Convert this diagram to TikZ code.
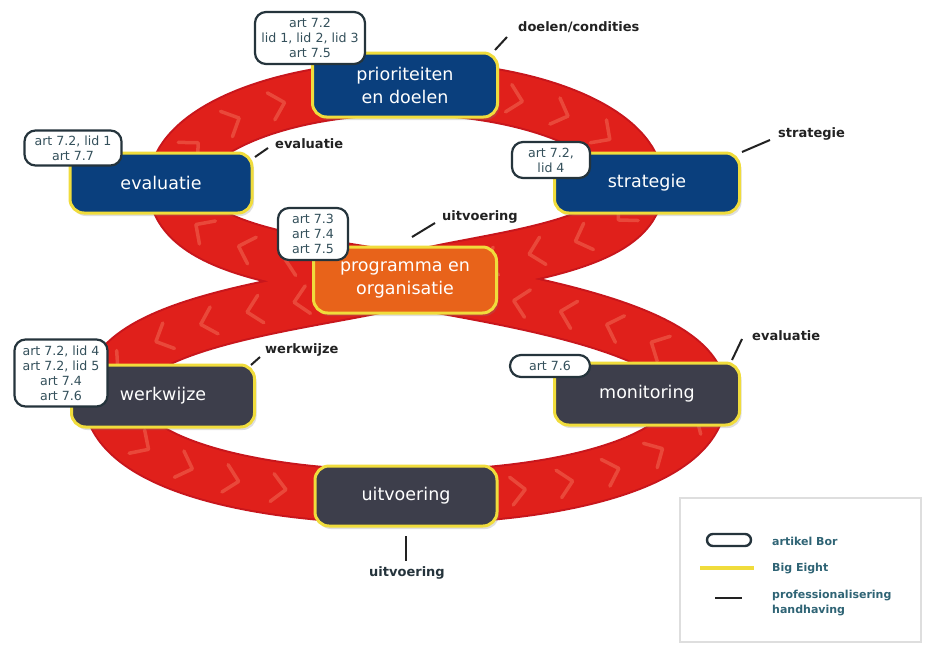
\documentclass[tikz,border=0pt]{standalone}
\usepackage{fontspec}
\setmainfont{DejaVu Sans}
\usetikzlibrary{decorations.markings,shadows}
\definecolor{bandred}{HTML}{E0201B}
\definecolor{banddark}{HTML}{C8161C}
\definecolor{chev}{HTML}{F47A60}
\definecolor{boxblue}{HTML}{0A3F7D}
\definecolor{boxorange}{HTML}{E8631A}
\definecolor{boxgray}{HTML}{3D3E4B}
\definecolor{rimyellow}{HTML}{F0DC3C}
\definecolor{artborder}{HTML}{25343C}
\definecolor{arttext}{HTML}{34505B}
\definecolor{legtext}{HTML}{2F6475}
\definecolor{anncol}{HTML}{222222}
\begin{document}
\begin{tikzpicture}[x=1pt,y=-1pt,
 mainbox/.style={draw=rimyellow, line width=3pt, rounded corners=14pt, minimum width=183pt, minimum height=62pt, text=white, font=\fontsize{17.5}{23}\selectfont, align=center, inner sep=0pt, drop shadow={shadow xshift=2pt, shadow yshift=-3pt, opacity=0.25}},
 artbox/.style={draw=artborder, fill=white, line width=2.2pt, rounded corners=11pt, text=arttext, font=\fontsize{12.6}{15}\selectfont, align=center, inner sep=0pt},
 ann/.style={font=\bfseries\fontsize{13}{15}\selectfont, text=anncol, inner sep=0pt},
 annline/.style={line width=2pt, anncol},
 legt/.style={font=\bfseries\fontsize{11}{15}\selectfont, text=legtext, inner sep=0pt, anchor=west, align=left},
 chevmark/.style={draw=chev, line width=3.5pt, opacity=0.45, line cap=round, line join=round},
]
\useasboundingbox (0,0) rectangle (928,645);
\fill[white] (0,0) rectangle (928,645);

% figure-eight band
\def\eightpath{(405,280) .. controls (325,264) and (175,255) .. (175,185)
  .. controls (175,131.5) and (280,88) .. (405,88)
  .. controls (532,88) and (637,131.5) .. (637,185)
  .. controls (637,250) and (485,258) .. (405,280)
  .. controls (325,302) and (110,318) .. (110,395)
  .. controls (110,462) and (250,497) .. (405,497)
  .. controls (560,497) and (700,462) .. (700,395)
  .. controls (700,325) and (485,296) .. (405,280)}
\draw[banddark, line width=55pt] \eightpath;
\draw[bandred, line width=51pt,
  postaction={decorate, decoration={markings,
    mark=between positions 20pt and -5pt step 48pt with {\draw[chevmark] (-8,-14) -- (6,0) -- (-8,14);}}}] \eightpath;

% main boxes
\node[mainbox, fill=boxblue, minimum width=185pt, minimum height=64pt] (prio) at (405,85) {prioriteiten\\en doelen};
\node[mainbox, fill=boxblue, minimum width=182pt, minimum height=60pt] (eval) at (161,183) {evaluatie};
\node[mainbox, fill=boxblue, minimum width=185pt, minimum height=60pt] (strat) at (647,183) {strategie};
\node[mainbox, fill=boxorange, minimum width=183pt, minimum height=66pt] (prog) at (405,280) {programma en\\organisatie};
\node[mainbox, fill=boxgray, minimum width=183pt, minimum height=62pt] (werk) at (163,396) {werkwijze};
\node[mainbox, fill=boxgray, minimum width=185pt, minimum height=62pt] (mon) at (647,394) {monitoring};
\node[mainbox, fill=boxgray, minimum width=182pt, minimum height=60pt] (uitv) at (406,496) {uitvoering};

% article boxes
\node[artbox, minimum width=110pt, minimum height=52pt] (a1) at (310,38) {art 7.2\\lid 1, lid 2, lid 3\\art 7.5};
\node[artbox, minimum width=97pt, minimum height=35pt] (a2) at (73,148) {art 7.2, lid 1\\art 7.7};
\node[artbox, minimum width=78pt, minimum height=36pt] (a3) at (551,160) {art 7.2,\\lid 4};
\node[artbox, minimum width=70pt, minimum height=52pt] (a4) at (313,234) {art 7.3\\art 7.4\\art 7.5};
\node[artbox, minimum width=93pt, minimum height=67pt] (a5) at (61,373) {art 7.2, lid 4\\art 7.2, lid 5\\art 7.4\\art 7.6};
\node[artbox, minimum width=80pt, minimum height=22pt] (a6) at (550,366) {art 7.6};

% annotations
\node[ann, anchor=west] (n1) at (518,27) {doelen/condities};
\coordinate (n1a) at (495,50); \coordinate (n1b) at (507,37);
\draw[annline] (n1a) -- (n1b);
\node[ann, anchor=west] (n2) at (275,144) {evaluatie};
\coordinate (n2a) at (255,157); \coordinate (n2b) at (268,148);
\draw[annline] (n2a) -- (n2b);
\node[ann, anchor=west] (n3) at (778,134) {strategie};
\coordinate (n3a) at (742,152); \coordinate (n3b) at (770,140);
\draw[annline] (n3a) -- (n3b);
\node[ann, anchor=west] (n4) at (442,217) {uitvoering};
\coordinate (n4a) at (412,237); \coordinate (n4b) at (435,223);
\draw[annline] (n4a) -- (n4b);
\node[ann, anchor=west] (n5) at (265,350) {werkwijze};
\coordinate (n5a) at (251,365); \coordinate (n5b) at (260,357);
\draw[annline] (n5a) -- (n5b);
\node[ann, anchor=west] (n6) at (752,336) {evaluatie};
\coordinate (n6a) at (732,360); \coordinate (n6b) at (742,339);
\draw[annline] (n6a) -- (n6b);
\node[ann, text=artborder] (n7) at (407,573) {uitvoering};
\coordinate (n7a) at (406,536); \coordinate (n7b) at (406,561);
\draw[annline] (n7a) -- (n7b);

% legend
\draw[black!13, line width=1.6pt] (680,498) rectangle (921,642);
\node[draw=artborder, line width=2.4pt, rounded corners=6pt, minimum width=44pt, minimum height=12pt, inner sep=0pt] (lg1) at (729,540) {};
\node[legt] (lt1) at (772,541) {artikel Bor};
\coordinate (lg2a) at (700,568); \coordinate (lg2b) at (754,568);
\draw[rimyellow, line width=4pt] (lg2a) -- (lg2b);
\node[legt] (lt2) at (772,568) {Big Eight};
\coordinate (lg3a) at (715,598); \coordinate (lg3b) at (742,598);
\draw[anncol, line width=2pt] (lg3a) -- (lg3b);
\node[legt] (lt3) at (772,603) {professionalisering\\handhaving};
\end{tikzpicture}
\end{document}
